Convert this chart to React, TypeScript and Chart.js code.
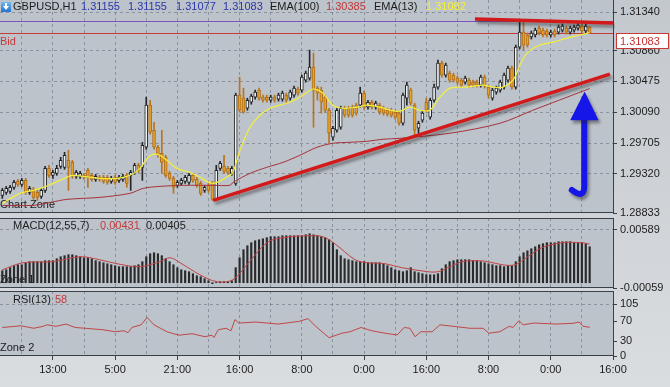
import React, { useEffect, useRef } from 'react';
import { Chart, registerables } from 'chart.js';

Chart.register(...registerables);

const W = 670;
const H = 387;
const FONT = "'Liberation Sans', Arial, sans-serif";

// ---------------- DATA ----------------
const candleOpen = [
  1.29053, 1.2909, 1.29103, 1.29153, 1.29228, 1.2919, 1.2924, 1.2909, 1.29128, 1.2909,
  1.2904, 1.29115, 1.2939, 1.29303, 1.29328, 1.29415, 1.29403, 1.2949, 1.29465, 1.2929,
  1.2929, 1.29303, 1.29365, 1.29303, 1.29253, 1.29278, 1.29278, 1.29278, 1.29228, 1.29278,
  1.2924, 1.29253, 1.29303, 1.29303, 1.2934, 1.29428, 1.29403, 1.29653, 1.30178, 1.29865,
  1.29653, 1.29578, 1.29528, 1.29328, 1.29265, 1.29178, 1.29203, 1.29228, 1.29215, 1.29303,
  1.29253, 1.29203, 1.29115, 1.29178, 1.29203, 1.29003, 1.2939, 1.29415, 1.2939, 1.29328,
  1.29203, 1.30303, 1.30265, 1.3014, 1.30215, 1.30278, 1.30365, 1.30278, 1.30278, 1.3024,
  1.30278, 1.30253, 1.30253, 1.30303, 1.30265, 1.30303, 1.30378, 1.30365, 1.3049, 1.30515,
  1.30653, 1.3039, 1.30365, 1.30278, 1.30115, 1.29778, 1.29865, 1.29903, 1.3014, 1.3014,
  1.30153, 1.30178, 1.30178, 1.30328, 1.30153, 1.30215, 1.30153, 1.30178, 1.3014, 1.30115,
  1.30115, 1.3009, 1.30078, 1.29953, 1.30265, 1.30365, 1.30178, 1.2989, 1.2999, 1.30215,
  1.30028, 1.3024, 1.30403, 1.30703, 1.30553, 1.30578, 1.30553, 1.30515, 1.3049, 1.30465,
  1.3049, 1.30465, 1.30465, 1.30428, 1.30528, 1.30403, 1.30265, 1.3034, 1.30365, 1.30403,
  1.3049, 1.3064, 1.30403, 1.30903, 1.3109, 1.31053, 1.31028, 1.31053, 1.3114, 1.31115,
  1.31103, 1.31053, 1.31103, 1.3109, 1.31115, 1.3114, 1.3109, 1.31115, 1.3114, 1.31165,
  1.31103, 1.31155,
];
const candleHigh = [
  1.2914, 1.29165, 1.29178, 1.2924, 1.29253, 1.29265, 1.29265, 1.29165, 1.29153, 1.29128,
  1.2914, 1.29415, 1.29428, 1.29365, 1.29428, 1.29528, 1.2959, 1.29615, 1.2949, 1.29365,
  1.29353, 1.29328, 1.2939, 1.29328, 1.29315, 1.29303, 1.29303, 1.29303, 1.2929, 1.29303,
  1.29303, 1.29315, 1.29328, 1.29365, 1.29453, 1.29453, 1.29715, 1.30278, 1.3024, 1.29965,
  1.29678, 1.29865, 1.29553, 1.29353, 1.2929, 1.2924, 1.29265, 1.29303, 1.29328, 1.29328,
  1.29278, 1.29228, 1.29178, 1.29203, 1.29228, 1.29428, 1.29478, 1.29553, 1.29415, 1.29415,
  1.30328, 1.30528, 1.3039, 1.30265, 1.30315, 1.30365, 1.3039, 1.30303, 1.30303, 1.30303,
  1.30303, 1.30328, 1.30353, 1.30328, 1.30365, 1.30415, 1.30403, 1.30553, 1.30603, 1.30865,
  1.30828, 1.30415, 1.30403, 1.30303, 1.3014, 1.29915, 1.3014, 1.30165, 1.30165, 1.30165,
  1.30178, 1.30203, 1.30403, 1.30353, 1.3024, 1.3024, 1.30228, 1.30203, 1.30165, 1.3014,
  1.3014, 1.30115, 1.30103, 1.30328, 1.30465, 1.3039, 1.30203, 1.29978, 1.30103, 1.30265,
  1.30265, 1.3044, 1.3074, 1.30728, 1.30703, 1.30603, 1.30578, 1.3054, 1.30515, 1.3054,
  1.30515, 1.3049, 1.3049, 1.30553, 1.30553, 1.30428, 1.3039, 1.30415, 1.3049, 1.30578,
  1.30665, 1.30665, 1.30928, 1.31215, 1.31215, 1.31078, 1.31103, 1.3114, 1.31165, 1.3114,
  1.31128, 1.31115, 1.31128, 1.31178, 1.3119, 1.31165, 1.31165, 1.31178, 1.31203, 1.3119,
  1.3119, 1.31155,
];
const candleLow = [
  1.29015, 1.29065, 1.29078, 1.29128, 1.29165, 1.29165, 1.29065, 1.29065, 1.29003, 1.2899,
  1.29015, 1.2909, 1.29278, 1.29265, 1.29303, 1.2939, 1.29378, 1.29115, 1.29265, 1.29265,
  1.29265, 1.29253, 1.29153, 1.29228, 1.29228, 1.29228, 1.29203, 1.2919, 1.29203, 1.2919,
  1.29215, 1.29228, 1.29153, 1.29115, 1.29315, 1.2934, 1.2924, 1.29628, 1.29815, 1.29628,
  1.29528, 1.29328, 1.29278, 1.2924, 1.29078, 1.29153, 1.29178, 1.29203, 1.2919, 1.29215,
  1.29153, 1.29053, 1.2909, 1.2909, 1.2899, 1.2899, 1.29365, 1.29328, 1.29315, 1.29303,
  1.29178, 1.3009, 1.30078, 1.30115, 1.3019, 1.30253, 1.3024, 1.30215, 1.30215, 1.30215,
  1.30215, 1.30228, 1.30228, 1.30215, 1.3024, 1.30278, 1.30303, 1.3034, 1.30465, 1.3049,
  1.29903, 1.3024, 1.30078, 1.3009, 1.29703, 1.2974, 1.2984, 1.29878, 1.30028, 1.30028,
  1.30028, 1.30053, 1.30153, 1.30128, 1.30128, 1.30128, 1.30128, 1.30065, 1.30053, 1.3004,
  1.30028, 1.30003, 1.29928, 1.29928, 1.30178, 1.30178, 1.29803, 1.29828, 1.29965, 1.3009,
  1.30003, 1.30215, 1.30378, 1.30528, 1.30528, 1.30465, 1.30465, 1.3044, 1.30403, 1.3044,
  1.30403, 1.30403, 1.30403, 1.30403, 1.3039, 1.30265, 1.3024, 1.30315, 1.3034, 1.30378,
  1.30465, 1.30378, 1.30378, 1.30878, 1.30865, 1.30903, 1.31003, 1.31028, 1.31053, 1.31028,
  1.31028, 1.31028, 1.31028, 1.31065, 1.3109, 1.31065, 1.31065, 1.3109, 1.31115, 1.31078,
  1.31078, 1.31077,
];
const candleClose = [
  1.29115, 1.2914, 1.29153, 1.29215, 1.2919, 1.2924, 1.2909, 1.2914, 1.29028, 1.29028,
  1.29115, 1.2939, 1.29303, 1.2934, 1.2939, 1.2949, 1.29553, 1.29403, 1.29303, 1.2934,
  1.29328, 1.29278, 1.29278, 1.29253, 1.2929, 1.29253, 1.29228, 1.29215, 1.29265, 1.29215,
  1.29278, 1.2929, 1.29203, 1.2934, 1.29428, 1.29365, 1.29678, 1.30178, 1.2984, 1.29653,
  1.29553, 1.29465, 1.29303, 1.29265, 1.29153, 1.29215, 1.2924, 1.29278, 1.29303, 1.2924,
  1.29178, 1.29078, 1.29153, 1.29115, 1.29003, 1.29365, 1.29453, 1.29353, 1.2934, 1.2939,
  1.30303, 1.30115, 1.3009, 1.3024, 1.3029, 1.3034, 1.30265, 1.3024, 1.3024, 1.30278,
  1.3024, 1.30303, 1.30328, 1.3024, 1.3034, 1.3039, 1.30328, 1.30528, 1.30578, 1.30653,
  1.30365, 1.30328, 1.30215, 1.30115, 1.29828, 1.2989, 1.30115, 1.3014, 1.30053, 1.30053,
  1.30053, 1.30078, 1.30328, 1.30153, 1.30215, 1.30153, 1.30203, 1.3009, 1.30078, 1.30065,
  1.30053, 1.30028, 1.29953, 1.30303, 1.30428, 1.30203, 1.29865, 1.29953, 1.30078, 1.30115,
  1.3024, 1.30403, 1.30703, 1.30553, 1.30678, 1.3049, 1.3049, 1.30465, 1.30428, 1.30515,
  1.30428, 1.30428, 1.30428, 1.30528, 1.30415, 1.30303, 1.30365, 1.3039, 1.30465, 1.30553,
  1.3064, 1.30403, 1.30903, 1.3109, 1.30928, 1.30928, 1.31078, 1.31115, 1.31078, 1.31053,
  1.31053, 1.3109, 1.31053, 1.31153, 1.31165, 1.3109, 1.3114, 1.31153, 1.31178, 1.31103,
  1.31165, 1.31083,
];

const ema13Idx = [0, 4.6, 7.9, 10.5, 13, 16.6, 17.9, 20.7, 25.1, 29.5, 32.8, 35.4, 37.2, 38.7, 40.5, 42.3, 44.9, 48.2, 50.8, 54.2, 58.5, 59.3, 61.1, 63.7, 66.2, 68.8, 71.4, 73.9, 76.5, 79.1, 80.4, 82.4, 85, 87.6, 91.2, 93.8, 97.1, 99.7, 102.2, 104.8, 107.4, 109.9, 112.5, 115.1, 119.5, 123.6, 126.2, 128.7, 131.3, 133.1, 134.9, 138.2, 141.6, 145.2, 148.5, 151];
const ema13Val = [1.28953, 1.29078, 1.29115, 1.29153, 1.29203, 1.29278, 1.29303, 1.2929, 1.29265, 1.29265, 1.29303, 1.2939, 1.29515, 1.29565, 1.29553, 1.2949, 1.2939, 1.2934, 1.29278, 1.29203, 1.29303, 1.2934, 1.29615, 1.29903, 1.30053, 1.3014, 1.30178, 1.30215, 1.30278, 1.30365, 1.30378, 1.30328, 1.30178, 1.3014, 1.30153, 1.30178, 1.30153, 1.30115, 1.30103, 1.30153, 1.30115, 1.30115, 1.30278, 1.3039, 1.30403, 1.30428, 1.30403, 1.30403, 1.3049, 1.30678, 1.30828, 1.30928, 1.30965, 1.31015, 1.31053, 1.31082];

const ema100Idx = [0, 7.9, 12.3, 16.6, 25.1, 32.8, 36.2, 40.5, 46.5, 54.2, 58.5, 59.3, 63.7, 68, 72.2, 76.5, 80.9, 85, 89.4, 93.8, 97.9, 102.2, 115.1, 128, 136.4, 145.2, 151];
const ema100Val = [1.28928, 1.28928, 1.28965, 1.29003, 1.29028, 1.29078, 1.2914, 1.29165, 1.29178, 1.29178, 1.29178, 1.29215, 1.29328, 1.29403, 1.29465, 1.29553, 1.29653, 1.29703, 1.29715, 1.29728, 1.29753, 1.29765, 1.29828, 1.29953, 1.30115, 1.30278, 1.30385];

const macdHist = [
  0.00134, 0.00145, 0.00168, 0.0019, 0.00201, 0.00201, 0.00223, 0.00235, 0.00235, 0.00235,
  0.00235, 0.00246, 0.00246, 0.00246, 0.00268, 0.0029, 0.00302, 0.00313, 0.00313, 0.00302,
  0.0029, 0.00279, 0.00279, 0.00268, 0.00246, 0.00235, 0.00223, 0.00212, 0.00201, 0.0019,
  0.00179, 0.00179, 0.00179, 0.00179, 0.0019, 0.00201, 0.00235, 0.0029, 0.00324, 0.00335,
  0.00324, 0.00302, 0.00268, 0.00235, 0.00201, 0.00168, 0.00145, 0.00134, 0.00123, 0.00101,
  0.00078, 0.00067, 0.00045, 0.00022, -0.00011, 0.00003, 0.00011, 0.00011, 0.00011, 0.00022,
  0.00168, 0.00279, 0.00369, 0.00413, 0.00447, 0.00469, 0.0048, 0.00491, 0.00503, 0.00514,
  0.00514, 0.00514, 0.00525, 0.00525, 0.00525, 0.00525, 0.00525, 0.00525, 0.00536, 0.00547,
  0.00536, 0.00525, 0.00514, 0.00503, 0.0048, 0.00447, 0.00369, 0.00302, 0.00268, 0.00257,
  0.00246, 0.00235, 0.00235, 0.00235, 0.00223, 0.00223, 0.00223, 0.00223, 0.00212, 0.0019,
  0.00168, 0.00145, 0.00134, 0.00123, 0.00134, 0.00168, 0.00123, 0.00112, 0.00101, 0.00089,
  0.00089, 0.00089, 0.00101, 0.00156, 0.00201, 0.00235, 0.00246, 0.00257, 0.00257, 0.00257,
  0.00257, 0.00246, 0.00246, 0.00235, 0.00223, 0.00212, 0.00201, 0.0019, 0.0019, 0.00179,
  0.0019, 0.0019, 0.00235, 0.0029, 0.00335, 0.00357, 0.0038, 0.00402, 0.00424, 0.00436,
  0.00447, 0.00447, 0.00447, 0.00458, 0.00458, 0.00458, 0.00458, 0.00447, 0.00447, 0.00447,
  0.00436, 0.00402,
];

const macdSignalIdx = [0, 5.3, 13, 20, 25, 29.5, 35.4, 40.5, 43.1, 45.7, 50.8, 55.2, 59.3, 62.9, 68, 72.2, 79.1, 82.4, 85.5, 90.7, 94, 98.4, 102.7, 109.4, 112, 114.6, 118.2, 122.3, 124.9, 128.5, 131.8, 135.1, 138.7, 143.9, 149, 151];
const macdSignalVal = [0.00145, 0.00223, 0.00235, 0.0029, 0.00257, 0.00212, 0.00179, 0.00235, 0.00279, 0.00223, 0.00089, 0.00011, 0.00034, 0.00201, 0.00447, 0.00503, 0.00525, 0.00514, 0.00435, 0.00257, 0.00223, 0.00212, 0.00168, 0.00123, 0.00123, 0.00168, 0.00235, 0.00246, 0.00235, 0.00201, 0.00201, 0.0029, 0.00391, 0.00447, 0.00447, 0.00431];

const rsiIdx = [0, 4.8, 8.1, 10.5, 11.5, 13.8, 16.4, 18.7, 21.3, 25.9, 29, 31.3, 32.3, 33.3, 35.7, 37.2, 39, 42.3, 45.4, 48.8, 52.1, 53.9, 54.4, 55.5, 57.5, 58.8, 59.8, 60.8, 65.2, 70.9, 76.3, 78.6, 80.6, 84, 87.3, 89.4, 92.2, 95, 98.4, 101.5, 103.3, 104.8, 106.1, 107.6, 110.5, 112.5, 115.9, 120.2, 123.6, 125.1, 127.9, 130.3, 131.3, 132.8, 133.9, 136.7, 142.3, 146.7, 148.3, 149.3, 151];
const rsiVal = [57.6, 61, 56, 60, 63, 60, 64.5, 57.6, 56, 53, 49, 51, 47, 57.6, 63, 78, 63, 49, 42, 45, 39, 42, 37, 53, 56, 51, 73.5, 66.6, 68.6, 64.5, 70, 75.5, 59.7, 37, 46, 49, 57.6, 51, 46, 42.4, 57.6, 56, 39, 49, 49, 63, 60, 56, 56, 46, 49, 60, 57.6, 71.4, 63, 66.6, 64.5, 66, 68.6, 60, 58];

const priceTicks = [1.28833, 1.2932, 1.29705, 1.3009, 1.30475, 1.3086, 1.3134];
const macdTicks = [-0.00059, 0.00589];
const rsiTicks = [0, 30, 70, 105];
const gridIdx = [5, 13, 21, 29, 37, 45, 53, 61, 69, 77, 85, 93, 101, 109, 117, 125, 133, 141, 149, 157];
const timeLabelIdx = [13, 29, 45, 61, 77, 93, 109, 125, 141, 157];
const timeLabelText = ['13:00', '5:00', '21:00', '16:00', '8:00', '0:00', '16:00', '8:00', '0:00', '16:00'];

const bidPrice = 1.31083;
const askLinePrice = 1.31228;
const trendLowerIdx = [54.2, 156.2];
const trendLowerVal = [1.2899, 1.30565];
const trendUpperIdx = [121.5, 157];
const trendUpperVal = [1.31253, 1.31203];
const arrowHeadIdx = [146.0, 153.3, 149.7];
const arrowHeadVal = [1.2999, 1.2999, 1.3035];
const arrowStemIdx = [149.6, 149.6, 149.6, 146.4]; // top, bottom, curve control, hook end
const arrowStemVal = [1.3, 1.2917, 1.29, 1.2912];

// ---------------- STYLE ----------------
const PANEL_BG = '#bcc3cb';
const GRID = 'rgba(98,108,124,0.55)';
const BORDER = '#3a4047';
const TEXT = '#1c1c1c';
const X_MIN = -0.6;
const X_MAX = 157;
const Y_AXIS_W = 57;
const MAIN_BOTTOM = 213;
const MACD_TOP = 218;
const MACD_BOTTOM = 288;
const RSI_TOP = 291;
const RSI_BOTTOM = 356;

const pts = (xs: number[], ys: number[]) => xs.map((x, k) => ({ x, y: ys[k] }));
const isBull = (i: number) => candleClose[i] >= candleOpen[i];

function txt(ctx: CanvasRenderingContext2D, s: string, x: number, y: number, color: string, size = 11) {
  ctx.fillStyle = color;
  ctx.font = `${size}px ${FONT}`;
  ctx.textBaseline = 'middle';
  ctx.textAlign = 'left';
  ctx.fillText(s, x, y);
}

function xAxis(showLabels: boolean): any {
  return {
    type: 'linear',
    min: X_MIN,
    max: X_MAX,
    offset: false,
    afterBuildTicks: (s: any) => {
      s.ticks = gridIdx.map((v) => ({ value: v }));
    },
    afterFit: (s: any) => {
      s.height = showLabels ? H - RSI_BOTTOM : 0;
      s.paddingLeft = 0;
      s.paddingRight = 0;
    },
    grid: {
      color: GRID,
      lineWidth: 1,
      offset: false,
      drawTicks: showLabels,
      tickLength: 4,
      tickBorderDash: [],
      tickColor: (c: any) => (c.tick && timeLabelIdx.includes(c.tick.value) ? BORDER : 'rgba(0,0,0,0)'),
    },
    border: { display: false, dash: [3, 3] },
    ticks: {
      display: showLabels,
      autoSkip: false,
      maxRotation: 0,
      padding: 3,
      color: TEXT,
      font: { family: FONT, size: 11 },
      callback: (v: number) => {
        const k = timeLabelIdx.indexOf(v);
        return k >= 0 ? timeLabelText[k] : '';
      },
    },
  };
}

function yAxis(min: number, max: number, ticks: number[], fmt: (v: number) => string, gridVals: number[]): any {
  return {
    type: 'linear',
    position: 'right',
    min,
    max,
    afterBuildTicks: (s: any) => {
      s.ticks = ticks.map((v) => ({ value: v }));
    },
    afterFit: (s: any) => {
      s.width = Y_AXIS_W;
      s.paddingTop = 0;
      s.paddingBottom = 0;
    },
    grid: {
      color: (c: any) => (c.tick && gridVals.includes(c.tick.value) ? GRID : 'rgba(0,0,0,0)'),
      lineWidth: 1,
      drawTicks: true,
      tickLength: 4,
      tickColor: BORDER,
      tickBorderDash: [],
    },
    border: { display: false, dash: [3, 3] },
    ticks: {
      padding: 3,
      color: TEXT,
      font: { family: FONT, size: 11 },
      callback: (v: number) => fmt(v),
    },
  };
}

function panelPlugin(id: string, top: boolean, extra: any = {}): any {
  return {
    id,
    beforeDraw(chart: any) {
      const { ctx, chartArea: a } = chart;
      ctx.save();
      ctx.fillStyle = PANEL_BG;
      ctx.fillRect(a.left, a.top, a.right - a.left, a.bottom - a.top);
      ctx.restore();
      if (extra.beforeDraw) extra.beforeDraw(chart);
    },
    beforeDatasetsDraw(chart: any) {
      if (extra.beforeDatasetsDraw) extra.beforeDatasetsDraw(chart);
    },
    afterDatasetsDraw(chart: any) {
      if (extra.afterDatasetsDraw) extra.afterDatasetsDraw(chart);
    },
    afterDraw(chart: any) {
      const { ctx, chartArea: a } = chart;
      ctx.save();
      ctx.strokeStyle = BORDER;
      ctx.lineWidth = 1;
      ctx.setLineDash([]);
      ctx.beginPath();
      if (top) {
        ctx.moveTo(a.left, a.top + 0.5);
        ctx.lineTo(a.right + 1, a.top + 0.5);
      }
      ctx.moveTo(a.left, a.bottom - 0.5);
      ctx.lineTo(a.right + 1, a.bottom - 0.5);
      ctx.moveTo(a.right + 0.5, a.top);
      ctx.lineTo(a.right + 0.5, a.bottom);
      ctx.stroke();
      ctx.restore();
      if (extra.afterDraw) extra.afterDraw(chart);
    },
  };
}

function shadowed(ctx: CanvasRenderingContext2D) {
  ctx.shadowColor = 'rgba(30,30,30,0.45)';
  ctx.shadowBlur = 3;
  ctx.shadowOffsetX = 2;
  ctx.shadowOffsetY = 3;
}

const baseOptions = (padTop: number, padBottom: number): any => ({
  responsive: false,
  animation: false,
  devicePixelRatio: 1,
  events: [],
  layout: { padding: { top: padTop, bottom: padBottom, left: 0, right: 0 } },
  plugins: { legend: { display: false }, tooltip: { enabled: false }, title: { display: false } },
});

function makeMain(canvas: HTMLCanvasElement) {
  const idx = candleOpen.map((_, i) => i);
  const wicks = idx.map((i) => ({ x: i, y: [candleLow[i], candleHigh[i]] }));
  const bodies = idx.map((i) => ({ x: i, y: [candleOpen[i], candleClose[i]] }));

  const deco = {
    beforeDatasetsDraw(chart: any) {
      const { ctx, chartArea: a, scales } = chart;
      const y = scales.y;
      ctx.save();
      ctx.lineWidth = 1;
      const py = Math.round(y.getPixelForValue(askLinePrice)) + 0.5;
      ctx.strokeStyle = '#7a55c2';
      ctx.beginPath();
      ctx.moveTo(a.left, py);
      ctx.lineTo(a.right, py);
      ctx.stroke();
      const by = Math.round(y.getPixelForValue(bidPrice)) + 0.5;
      ctx.strokeStyle = '#c63a3a';
      ctx.beginPath();
      ctx.moveTo(a.left, by);
      ctx.lineTo(a.right, by);
      ctx.stroke();
      txt(ctx, 'Bid', 0, by + 8, '#c83a3a');
      txt(ctx, 'Chart Zone', 0, a.bottom - 8, TEXT);
      ctx.restore();
    },
    afterDatasetsDraw(chart: any) {
      const { ctx, scales } = chart;
      const x = scales.x;
      const y = scales.y;
      const P = (i: number, v: number) => [x.getPixelForValue(i), y.getPixelForValue(v)];
      ctx.save();
      ctx.beginPath();
      ctx.rect(chart.chartArea.left, chart.chartArea.top, chart.chartArea.right - chart.chartArea.left + 2, chart.chartArea.bottom - chart.chartArea.top);
      ctx.clip();
      shadowed(ctx);
      ctx.strokeStyle = '#d21a1a';
      ctx.lineWidth = 3.5;
      ctx.lineCap = 'butt';
      const l0 = P(trendLowerIdx[0], trendLowerVal[0]);
      const l1 = P(trendLowerIdx[1], trendLowerVal[1]);
      ctx.beginPath();
      ctx.moveTo(l0[0], l0[1]);
      ctx.lineTo(l1[0], l1[1]);
      ctx.stroke();
      const u0 = P(trendUpperIdx[0], trendUpperVal[0]);
      const u1 = P(trendUpperIdx[1], trendUpperVal[1]);
      ctx.beginPath();
      ctx.moveTo(u0[0], u0[1]);
      ctx.lineTo(u1[0], u1[1]);
      ctx.stroke();
      // blue arrow
      ctx.strokeStyle = '#1616e8';
      ctx.fillStyle = '#1616e8';
      ctx.lineWidth = 6;
      ctx.lineCap = 'round';
      const s0 = P(arrowStemIdx[0], arrowStemVal[0]);
      const s1 = P(arrowStemIdx[1], arrowStemVal[1]);
      const sc = P(arrowStemIdx[2], arrowStemVal[2]);
      const s2 = P(arrowStemIdx[3], arrowStemVal[3]);
      ctx.beginPath();
      ctx.moveTo(s0[0], s0[1]);
      ctx.lineTo(s1[0], s1[1]);
      ctx.quadraticCurveTo(sc[0], sc[1], s2[0], s2[1]);
      ctx.stroke();
      const h0 = P(arrowHeadIdx[0], arrowHeadVal[0]);
      const h1 = P(arrowHeadIdx[1], arrowHeadVal[1]);
      const h2 = P(arrowHeadIdx[2], arrowHeadVal[2]);
      ctx.beginPath();
      ctx.moveTo(h0[0], h0[1]);
      ctx.lineTo(h1[0], h1[1]);
      ctx.lineTo(h2[0], h2[1]);
      ctx.closePath();
      ctx.fill();
      ctx.restore();
    },
    afterDraw(chart: any) {
      const { ctx, chartArea: a, scales } = chart;
      ctx.save();
      // header icon
      const g = ctx.createLinearGradient(0, 1, 0, 11);
      g.addColorStop(0, '#7cc0f4');
      g.addColorStop(1, '#2a78d0');
      ctx.fillStyle = g;
      ctx.fillRect(1, 2, 10, 10);
      ctx.fillStyle = '#ffffff';
      ctx.beginPath();
      ctx.moveTo(3, 6);
      ctx.lineTo(9, 6);
      ctx.lineTo(6, 10);
      ctx.closePath();
      ctx.fill();
      ctx.fillRect(5, 3, 2, 3);
      txt(ctx, 'GBPUSD,H1', 13, 7, TEXT);
      txt(ctx, '1.31155', 81, 7, '#2b36a8');
      txt(ctx, '1.31155', 128, 7, '#2b36a8');
      txt(ctx, '1.31077', 176, 7, '#2b36a8');
      txt(ctx, '1.31083', 223, 7, '#2b36a8');
      txt(ctx, 'EMA(100)', 270, 7, TEXT);
      txt(ctx, '1.30385', 326, 7, '#c23636');
      txt(ctx, 'EMA(13)', 374, 7, TEXT);
      txt(ctx, '1.31082', 426, 7, '#f4f03a');
      // price box
      const by = Math.round(scales.y.getPixelForValue(bidPrice));
      ctx.fillStyle = '#ffffff';
      ctx.fillRect(a.right + 3, by, W - a.right - 4, 16);
      ctx.strokeStyle = '#c83a3a';
      ctx.lineWidth = 1;
      ctx.strokeRect(a.right + 3.5, by + 0.5, W - a.right - 5, 15);
      txt(ctx, bidPrice.toFixed(5), a.right + 7, by + 8.5, '#c83030');
      ctx.restore();
    },
  };

  return new Chart(canvas, {
    type: 'bar',
    data: {
      datasets: [
        {
          type: 'line',
          label: 'EMA(13)',
          data: pts(ema13Idx, ema13Val),
          borderColor: '#f3ef3c',
          borderWidth: 1.2,
          pointRadius: 0,
          tension: 0.35,
          order: 0,
        } as any,
        {
          type: 'line',
          label: 'EMA(100)',
          data: pts(ema100Idx, ema100Val),
          borderColor: '#a7323a',
          borderWidth: 1,
          pointRadius: 0,
          tension: 0.3,
          order: 1,
        } as any,
        {
          type: 'bar',
          label: 'body',
          data: bodies,
          grouped: false,
          barThickness: 3,
          minBarLength: 1,
          borderWidth: 1,
          borderSkipped: false,
          backgroundColor: (c: any) => (isBull(c.dataIndex) ? '#eef1f4' : '#e4a128'),
          borderColor: (c: any) => (isBull(c.dataIndex) ? '#242424' : '#b06e1c'),
          order: 2,
        } as any,
        {
          type: 'bar',
          label: 'wick',
          data: wicks,
          grouped: false,
          barThickness: 1,
          borderWidth: 0,
          backgroundColor: (c: any) => (isBull(c.dataIndex) ? '#262626' : '#b8741c'),
          order: 3,
        } as any,
      ],
    },
    options: {
      ...baseOptions(0, H - MAIN_BOTTOM),
      scales: {
        x: xAxis(false),
        y: yAxis(priceTicks[0], 1.3149, priceTicks, (v) => v.toFixed(5), priceTicks.slice(1)),
      },
    },
    plugins: [panelPlugin('mainPanel', false, deco)],
  } as any);
}

function makeMacd(canvas: HTMLCanvasElement) {
  const deco = {
    beforeDatasetsDraw(chart: any) {
      const { ctx, chartArea: a } = chart;
      ctx.save();
      txt(ctx, 'Zone 1', 0, a.bottom - 8, TEXT);
      ctx.restore();
    },
    afterDraw(chart: any) {
      const { ctx, chartArea: a } = chart;
      ctx.save();
      txt(ctx, 'MACD(12,55,7)', 13, a.top + 8, TEXT);
      txt(ctx, '0.00431', 100, a.top + 8, '#c43a3a');
      txt(ctx, '0.00405', 146, a.top + 8, TEXT);
      ctx.restore();
    },
  };
  return new Chart(canvas, {
    type: 'bar',
    data: {
      datasets: [
        {
          type: 'line',
          label: 'Signal',
          data: pts(macdSignalIdx, macdSignalVal),
          borderColor: '#c24444',
          borderWidth: 1,
          pointRadius: 0,
          tension: 0.35,
          order: 0,
        } as any,
        {
          type: 'bar',
          label: 'MACD',
          data: macdHist.map((v, i) => ({ x: i, y: v })),
          grouped: false,
          barThickness: 1.5,
          borderWidth: 0,
          backgroundColor: '#2a2a2a',
          order: 1,
        } as any,
      ],
    },
    options: {
      ...baseOptions(MACD_TOP, H - MACD_BOTTOM),
      scales: {
        x: xAxis(false),
        y: yAxis(-0.00059, 0.00723, macdTicks, (v) => v.toFixed(5), [0.00589]),
      },
    },
    plugins: [panelPlugin('macdPanel', true, deco)],
  } as any);
}

function makeRsi(canvas: HTMLCanvasElement) {
  const deco = {
    beforeDatasetsDraw(chart: any) {
      const { ctx, chartArea: a } = chart;
      ctx.save();
      txt(ctx, 'Zone 2', 0, a.bottom - 8, TEXT);
      ctx.restore();
    },
    afterDraw(chart: any) {
      const { ctx, chartArea: a } = chart;
      ctx.save();
      txt(ctx, 'RSI(13)', 13, a.top + 9, TEXT);
      txt(ctx, '58', 55, a.top + 9, '#c43a3a');
      ctx.restore();
    },
  };
  return new Chart(canvas, {
    type: 'line',
    data: {
      datasets: [
        {
          label: 'RSI(13)',
          data: pts(rsiIdx, rsiVal),
          borderColor: '#c04848',
          borderWidth: 1,
          pointRadius: 0,
          tension: 0,
        },
      ],
    },
    options: {
      ...baseOptions(RSI_TOP, 0),
      scales: {
        x: xAxis(true),
        y: yAxis(0, 131.3, rsiTicks, (v) => String(Math.round(v)), [105]),
      },
    },
    plugins: [panelPlugin('rsiPanel', true, deco)],
  } as any);
}

export default function App() {
  const mainRef = useRef<HTMLCanvasElement>(null);
  const macdRef = useRef<HTMLCanvasElement>(null);
  const rsiRef = useRef<HTMLCanvasElement>(null);

  useEffect(() => {
    Chart.defaults.font.family = FONT;
    const charts = [
      makeRsi(rsiRef.current as HTMLCanvasElement),
      makeMacd(macdRef.current as HTMLCanvasElement),
      makeMain(mainRef.current as HTMLCanvasElement),
    ];
    return () => charts.forEach((c) => c.destroy());
  }, []);

  const cv: React.CSSProperties = { position: 'absolute', left: 0, top: 0, width: W, height: H };
  return (
    <div
      style={{
        position: 'fixed',
        left: 0,
        top: 0,
        width: W,
        height: H,
        overflow: 'hidden',
        background: 'linear-gradient(#c3c8ce, #dadde0)',
      }}
    >
      <canvas ref={rsiRef} width={W} height={H} style={cv} />
      <canvas ref={macdRef} width={W} height={H} style={cv} />
      <canvas ref={mainRef} width={W} height={H} style={cv} />
    </div>
  );
}
